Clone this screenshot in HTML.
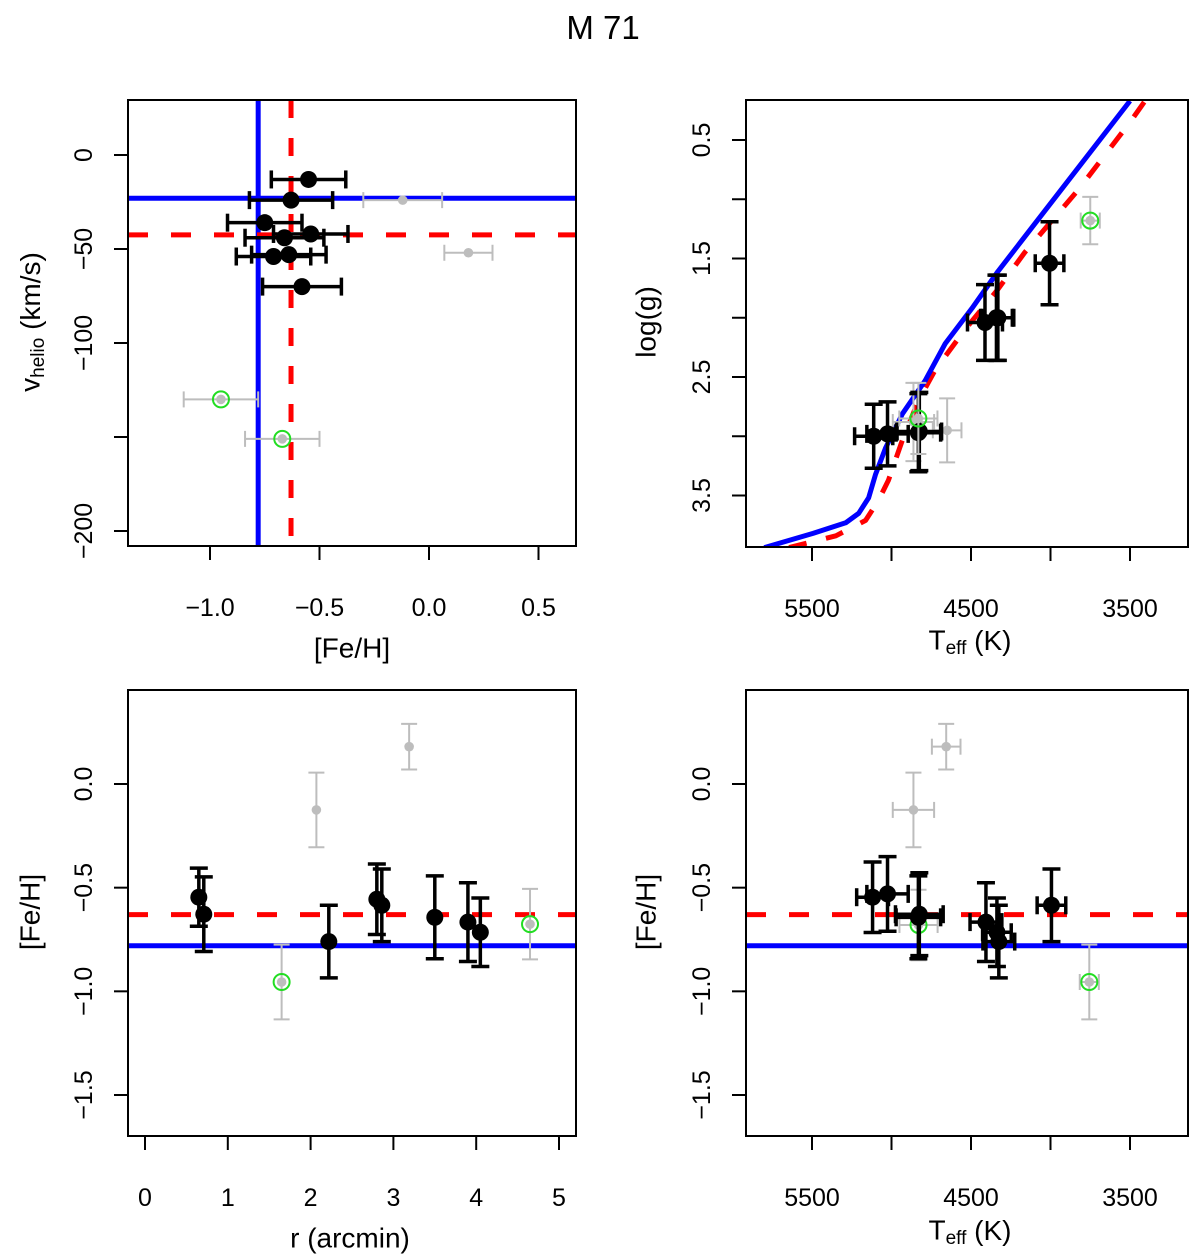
<!DOCTYPE html>
<html><head><meta charset="utf-8"><style>
html,body{margin:0;padding:0;background:#fff;}
svg{display:block;font-family:"Liberation Sans",Arial,sans-serif;}
</style></head><body>
<svg id="fig" width="1200" height="1257" viewBox="0 0 1200 1257" xmlns="http://www.w3.org/2000/svg">
<text x="603" y="39" font-size="33" text-anchor="middle">M 71</text>
</svg>
<script>
// ---- Panel 1: vhelio vs [Fe/H]
const p1BlackFe=[-0.55,-0.63,-0.75,-0.54,-0.66,-0.71,-0.64,-0.58];
const p1BlackV=[-13,-24,-36,-42,-44,-54,-53,-70];
const p1BlackFeErr=[0.17,0.19,0.17,0.17,0.18,0.17,0.17,0.18];
const p1GrayFe=[-0.12,0.18];
const p1GrayV=[-24,-52];
const p1GrayFeErr=[0.18,0.11];
const p1GreenFe=[-0.95,-0.67];
const p1GreenV=[-130,-151];
const p1GreenFeErr=[0.17,0.17];
const meanFeBlue=-0.78, meanFeRed=-0.63;
const meanVBlue=-23, meanVRed=-42.5;
// ---- Panel 2: logg vs Teff
const p2BlackT=[5112,5025,4831,4825,4412,4331,4340,4006];
const p2BlackG=[3.0,2.98,2.97,2.96,2.04,2.0,2.0,1.54];
const p2BlackTErr=[120,130,140,140,110,100,100,90];
const p2BlackGErr=[0.27,0.27,0.33,0.33,0.32,0.36,0.36,0.35];
const p2GrayT=[4862,4650];
const p2GrayG=[2.88,2.95];
const p2GrayTErr=[130,90];
const p2GrayGErr=[0.33,0.27];
const p2GreenT=[4831,3750];
const p2GreenG=[2.85,1.18];
const p2GreenTErr=[120,60];
const p2GreenGErr=[0.3,0.2];
const isoBlueT=[5800,5494,5288,5206,5144,5100,5038,4931,4788,4663,4494,4331,4181,3500];
const isoBlueG=[3.94,3.82,3.73,3.65,3.52,3.32,3.10,2.81,2.53,2.22,1.92,1.61,1.35,0.17];
const isoRedT=[5644,5350,5163,5081,5019,4975,4931,4831,4725,4538,4331,4163,3825,3500,3400];
const isoRedG=[3.94,3.84,3.71,3.54,3.37,3.20,3.03,2.70,2.44,2.10,1.76,1.45,0.92,0.35,0.16];
// ---- Panel 3: [Fe/H] vs r
const p3BlackR=[0.65,0.71,2.22,2.80,2.86,3.50,3.90,4.05];
const p3BlackFe=[-0.546,-0.628,-0.76,-0.556,-0.585,-0.643,-0.666,-0.715];
const p3BlackFeErr=[0.14,0.18,0.175,0.17,0.175,0.2,0.19,0.165];
const p3GrayR=[2.07,3.19];
const p3GrayFe=[-0.125,0.18];
const p3GrayFeErr=[0.18,0.11];
const p3GreenR=[1.65,4.65];
const p3GreenFe=[-0.955,-0.676];
const p3GreenFeErr=[0.18,0.17];
// ---- Panel 4: [Fe/H] vs Teff
const p4BlackT=[5119,5025,4825,4831,4406,4337,4325,3994];
const p4BlackFe=[-0.546,-0.53,-0.628,-0.643,-0.666,-0.715,-0.76,-0.585];
const p4BlackTErr=[100,130,150,140,100,90,100,90];
const p4BlackFeErr=[0.17,0.18,0.2,0.2,0.19,0.165,0.175,0.175];
const p4GrayT=[4862,4656];
const p4GrayFe=[-0.125,0.18];
const p4GrayTErr=[130,90];
const p4GrayFeErr=[0.18,0.11];
const p4GreenT=[4830,3756];
const p4GreenFe=[-0.68,-0.955];
const p4GreenTErr=[120,60];
const p4GreenFeErr=[0.17,0.18];

const NS="http://www.w3.org/2000/svg";
const svg=document.getElementById('fig');
function mk(tag,attrs,parent){const e=document.createElementNS(NS,tag);for(const k in attrs)e.setAttribute(k,attrs[k]);(parent||svg).appendChild(e);return e;}
function lin(d0,d1,p0,p1){return v=>p0+(v-d0)*(p1-p0)/(d1-d0);}

function makePanel(name,box,xs,ys,xticks,xlabels,yticks,ylabels){
  const g=mk('g',{});
  
  
  const clipId='clip-'+name;
  const cp=mk('clipPath',{id:clipId},g);
  mk('rect',{x:box.l,y:box.t,width:box.r-box.l,height:box.b-box.t},cp);
  const plot=mk('g',{'clip-path':'url(#'+clipId+')'},g);
  
  
  const frame=mk('rect',{x:box.l,y:box.t,width:box.r-box.l,height:box.b-box.t,fill:'none',stroke:'#000','stroke-width':2},g);
  
  
  const xa=mk('g',{},g);
  
  
  xticks.forEach((v,i)=>{const x=xs(v);mk('line',{x1:x,x2:x,y1:box.b,y2:box.b+14,stroke:'#000','stroke-width':2},xa);
    if(xlabels[i]!==''){const t=mk('text',{x:x,y:box.b+70,'font-size':25,'text-anchor':'middle'},xa);t.textContent=xlabels[i];
    
    }});
  const ya=mk('g',{},g);
  
  
  yticks.forEach((v,i)=>{const y=ys(v);mk('line',{x1:box.l-14,x2:box.l,y1:y,y2:y,stroke:'#000','stroke-width':2},ya);
    if(ylabels[i]!==''){const cx=box.l-44;const t=mk('text',{x:cx,y:y,'font-size':25,'text-anchor':'middle','dominant-baseline':'central',transform:`rotate(-90 ${cx} ${y})`},ya);t.textContent=ylabels[i];
    
    }});
  return plot;
}
function hline(plot,box,y,color,dash,name){const l=mk('line',{x1:box.l,x2:box.r,y1:y,y2:y,stroke:color,'stroke-width':5,'stroke-dasharray':dash||'none'},plot);
  
  }
function vline(plot,box,x,color,dash,name){const l=mk('line',{x1:x,x2:x,y1:box.t,y2:box.b,stroke:color,'stroke-width':5,'stroke-dasharray':dash||'none'},plot);
  
  }
function errbar(plot,cx,cy,x0,x1,y0,y1,col,w,cap){
  if(x0!==null){mk('line',{x1:x0,x2:x1,y1:cy,y2:cy,stroke:col,'stroke-width':w},plot);
    mk('line',{x1:x0,x2:x0,y1:cy-cap,y2:cy+cap,stroke:col,'stroke-width':w},plot);
    mk('line',{x1:x1,x2:x1,y1:cy-cap,y2:cy+cap,stroke:col,'stroke-width':w},plot);}
  if(y0!==null){mk('line',{x1:cx,x2:cx,y1:y0,y2:y1,stroke:col,'stroke-width':w},plot);
    mk('line',{x1:cx-cap,x2:cx+cap,y1:y0,y2:y0,stroke:col,'stroke-width':w},plot);
    mk('line',{x1:cx-cap,x2:cx+cap,y1:y1,y2:y1,stroke:col,'stroke-width':w},plot);}
}
function points(plot,xs,ys,X,Y,XE,YE,kind){
  X.forEach((xv,i)=>{const cx=xs(X[i]),cy=ys(Y[i]);
    const black=kind==='black';
    const col=black?'#000':'#bdbdbd';
    errbar(plot,cx,cy,XE?xs(X[i]-XE[i]):null,XE?xs(X[i]+XE[i]):null,YE?ys(Y[i]-YE[i]):null,YE?ys(Y[i]+YE[i]):null,col,black?3.5:2,black?9:8);
    const c=mk('circle',{cx:cx,cy:cy,r:black?8.5:4.8,fill:col},plot);
    
    
    if(kind==='green'){const o=mk('circle',{cx:cx,cy:cy,r:8,fill:'none',stroke:'#22dd22','stroke-width':2},plot);
      
      }
  });
}
function label(x,y,html,rot,name){const t=mk('text',{x:x,y:y,'font-size':28,'text-anchor':'middle','dominant-baseline':'central'});
  if(rot)t.setAttribute('transform',`rotate(-90 ${x} ${y})`);t.innerHTML=html;
  
  }

// Panel 1
const b1={l:128,r:576,t:100,b:546};
const x1=lin(0,0.5,429,538.5), y1=lin(0,-200,155,531);
const pl1=makePanel('panel-velocity-vs-feh',b1,x1,y1,[-1,-0.5,0,0.5],['\u22121.0','\u22120.5','0.0','0.5'],[0,-50,-100,-150,-200],['0','\u221250','\u2212100','','\u2212200']);
vline(pl1,b1,x1(meanFeBlue),'#0000ff',null,'mean-feh-line-blue');
vline(pl1,b1,x1(meanFeRed),'#ff0000','18 20','mean-feh-line-red');
hline(pl1,b1,y1(meanVBlue),'#0000ff',null,'mean-velocity-line-blue');
hline(pl1,b1,y1(meanVRed),'#ff0000','20 23','mean-velocity-line-red');
points(pl1,x1,y1,p1GrayFe,p1GrayV,p1GrayFeErr,null,'gray');
points(pl1,x1,y1,p1GreenFe,p1GreenV,p1GreenFeErr,null,'green');
points(pl1,x1,y1,p1BlackFe,p1BlackV,p1BlackFeErr,null,'black');
label(352,648,'[Fe/H]',false,'x-axis-title-feh');
label(30,322,'v<tspan font-size="19" dy="8">helio</tspan><tspan dy="-8"> (km/s)</tspan>',true,'y-axis-title-vhelio');

// Panel 2
const b2={l:746,r:1188,t:100,b:547};
const x2=lin(5500,3500,812,1130), y2=lin(0.5,3.5,140,495.5);
const pl2=makePanel('panel-logg-vs-teff',b2,x2,y2,[5500,5000,4500,4000,3500],['5500','','4500','','3500'],[0.5,1,1.5,2,2.5,3,3.5],['0.5','','1.5','','2.5','','3.5']);
function curve(T,G,col,dash,name){const d=T.map((t,i)=>(i?'L':'M')+x2(t).toFixed(1)+' '+y2(G[i]).toFixed(1)).join(' ');
  const p=mk('path',{d:d,fill:'none',stroke:col,'stroke-width':5,'stroke-dasharray':dash||'none','stroke-linejoin':'round'},pl2);
  
  }
curve(isoRedT,isoRedG,'#ff0000','18 20','isochrone-red-dashed');
curve(isoBlueT,isoBlueG,'#0000ff',null,'isochrone-blue');
points(pl2,x2,y2,p2GrayT,p2GrayG,p2GrayTErr,p2GrayGErr,'gray');
points(pl2,x2,y2,p2BlackT,p2BlackG,p2BlackTErr,p2BlackGErr,'black');
points(pl2,x2,y2,p2GreenT,p2GreenG,p2GreenTErr,p2GreenGErr,'green');
label(970,640,'T<tspan font-size="19" dy="8">eff</tspan><tspan dy="-8"> (K)</tspan>',false,'x-axis-title-teff');
label(646,322,'log(g)',true,'y-axis-title-logg');

// Panel 3
const b3={l:128,r:576,t:690,b:1136};
const x3=lin(0,5,145,559), y3=lin(0,-1.5,784,1095);
const pl3=makePanel('panel-feh-vs-radius',b3,x3,y3,[0,1,2,3,4,5],['0','1','2','3','4','5'],[0,-0.5,-1,-1.5],['0.0','\u22120.5','\u22121.0','\u22121.5']);
hline(pl3,b3,y3(meanFeRed),'#ff0000','20 23','mean-feh-line-red');
hline(pl3,b3,y3(meanFeBlue),'#0000ff',null,'mean-feh-line-blue');
points(pl3,x3,y3,p3GrayR,p3GrayFe,null,p3GrayFeErr,'gray');
points(pl3,x3,y3,p3GreenR,p3GreenFe,null,p3GreenFeErr,'green');
points(pl3,x3,y3,p3BlackR,p3BlackFe,null,p3BlackFeErr,'black');
label(350,1238,'r (arcmin)',false,'x-axis-title-radius');
label(30,912,'[Fe/H]',true,'y-axis-title-feh');

// Panel 4
const b4={l:746,r:1188,t:690,b:1136};
const x4=lin(5500,3500,812,1130), y4=lin(0,-1.5,784,1095);
const pl4=makePanel('panel-feh-vs-teff',b4,x4,y4,[5500,5000,4500,4000,3500],['5500','','4500','','3500'],[0,-0.5,-1,-1.5],['0.0','\u22120.5','\u22121.0','\u22121.5']);
hline(pl4,b4,y4(meanFeRed),'#ff0000','20 23','mean-feh-line-red');
hline(pl4,b4,y4(meanFeBlue),'#0000ff',null,'mean-feh-line-blue');
points(pl4,x4,y4,p4GrayT,p4GrayFe,p4GrayTErr,p4GrayFeErr,'gray');
points(pl4,x4,y4,p4GreenT,p4GreenFe,p4GreenTErr,p4GreenFeErr,'green');
points(pl4,x4,y4,p4BlackT,p4BlackFe,p4BlackTErr,p4BlackFeErr,'black');
label(970,1230,'T<tspan font-size="19" dy="8">eff</tspan><tspan dy="-8"> (K)</tspan>',false,'x-axis-title-teff');
label(646,912,'[Fe/H]',true,'y-axis-title-feh');
</script>
</body></html>
